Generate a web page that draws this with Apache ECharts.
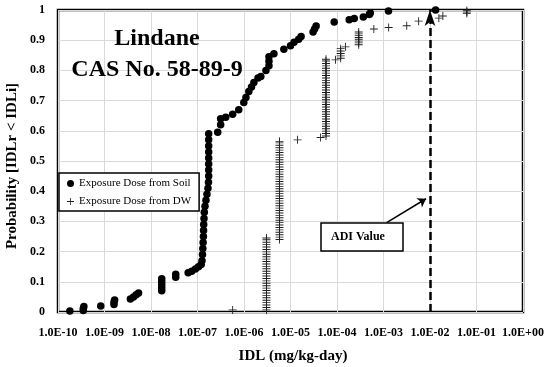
<!DOCTYPE html>
<html>
<head>
<meta charset="utf-8">
<script src="https://cdn.jsdelivr.net/npm/echarts@6/dist/echarts.min.js"></script>
<style>html,body{margin:0;padding:0;background:#fff}#c{width:550px;height:367px}</style>
</head>
<body>
<div id="c"></div>
<script>
// ---- data ----
const soilName = 'Exposure Dose from Soil';
const dwName = 'Exposure Dose from DW';
const titleLines = ['Lindane', 'CAS No. 58-89-9'];
const xTitle = 'IDL (mg/kg-day)';
const yTitle = 'Probability [IDLr < IDLi]';
const adiLabel = 'ADI Value';
const adiValue = 0.0082;
const arrowFrom = [1.17e-3, 0.296];
const arrowTo = [0.0082, 0.375];

const soilData = [
  [1.8e-10,0.003],[3.5e-10,0.005],[3.5e-10,0.012],[3.6e-10,0.018],[8.3e-10,0.02],
  [1.6e-9,0.025],[1.6e-9,0.033],[1.65e-9,0.04],[3.6e-9,0.043],[4.2e-9,0.05],[4.8e-9,0.057],[5.4e-9,0.063],
  [1.7e-8,0.07],[1.7e-8,0.08],[1.7e-8,0.09],[1.7e-8,0.1],[1.7e-8,0.11],[3.4e-8,0.115],[3.4e-8,0.125],
  [6.3e-8,0.13],[7.5e-8,0.135],[9.0e-8,0.142],[1.05e-7,0.15],[1.2e-7,0.157],
  [1.25e-7,0.17],[1.28e-7,0.19],[1.3e-7,0.21],[1.32e-7,0.23],[1.34e-7,0.25],[1.35e-7,0.27],[1.36e-7,0.29],
  [1.38e-7,0.31],[1.4e-7,0.33],[1.45e-7,0.35],[1.52e-7,0.37],[1.6e-7,0.39],[1.68e-7,0.41],[1.72e-7,0.43],
  [1.74e-7,0.45],[1.74e-7,0.47],[1.74e-7,0.49],[1.74e-7,0.51],[1.74e-7,0.53],[1.74e-7,0.55],[1.74e-7,0.57],[1.74e-7,0.59],
  [2.72e-7,0.595],[3.15e-7,0.62],[3.15e-7,0.64],[4.05e-7,0.645],[5.7e-7,0.655],[7.7e-7,0.67],[9.9e-7,0.694],
  [1.1e-6,0.71],[1.27e-6,0.73],[1.45e-6,0.745],[1.63e-6,0.76],[2.0e-6,0.775],[2.3e-6,0.78],[2.96e-6,0.8],
  [3.44e-6,0.815],[3.44e-6,0.83],[3.44e-6,0.845],[4.4e-6,0.855],[7.2e-6,0.87],[1.0e-5,0.882],[1.19e-5,0.893],
  [1.5e-5,0.903],[1.69e-5,0.912],[3.06e-5,0.927],[3.3e-5,0.937],[3.56e-5,0.947],[8.7e-5,0.96],
  [1.83e-4,0.968],[2.35e-4,0.972],[3.68e-4,0.977],[4.95e-4,0.985],[5.2e-4,0.99],[1.28e-3,0.997],[1.32e-2,1.0]
];

const dwSingles = [
  [5.7e-7,0.007],[1.42e-5,0.57],[4.44e-5,0.578],[9.3e-5,0.835],[1.53e-4,0.878],
  [6.2e-4,0.937],[1.29e-3,0.942],[3.16e-3,0.948],[5.7e-3,0.963],[1.55e-2,0.973],[1.89e-2,0.98],
  [6.2e-2,0.988],[6.2e-2,0.993],[6.2e-2,0.998]
];
const dwStackIDL = [3.04e-6, 5.8e-6, 5.8e-5, 1.2e-4, 2.93e-4];
const dwStackProb = [
  [0.007,0.015,0.023,0.031,0.039,0.047,0.055,0.063,0.071,0.079,0.087,0.095,0.103,0.111,0.119,0.127,
   0.135,0.143,0.151,0.159,0.167,0.175,0.183,0.191,0.199,0.207,0.215,0.223,0.231,0.239,0.245],
  [0.24,0.248,0.256,0.264,0.272,0.28,0.288,0.296,0.304,0.312,0.32,0.328,0.336,0.344,0.352,0.36,0.368,
   0.376,0.384,0.392,0.4,0.408,0.416,0.424,0.432,0.44,0.448,0.456,0.464,0.472,0.48,0.488,0.496,0.504,
   0.512,0.52,0.528,0.536,0.544,0.552,0.56,0.565],
  [0.583,0.591,0.599,0.607,0.615,0.623,0.631,0.639,0.647,0.655,0.663,0.671,0.679,0.687,0.695,0.703,
   0.711,0.719,0.727,0.735,0.743,0.751,0.759,0.767,0.775,0.783,0.791,0.799,0.807,0.815,0.823,0.831,0.837],
  [0.84,0.848,0.856,0.864,0.872],
  [0.885,0.891,0.897,0.903,0.909,0.915,0.921,0.927]
];

// ---- build ----
const dwData = dwSingles.slice();
dwStackIDL.forEach((x, i) => dwStackProb[i].forEach(p => dwData.push([x, p])));

const SERIF = 'Liberation Serif, Times New Roman, serif';
const plusPath = 'path://M0,3.55 H8 V4.45 H0 Z M3.55,0 H4.45 V8 H3.55 Z';

function expLabel(v) {
  const e = Math.round(Math.log10(v));
  return '1.0E' + (e < 0 ? '-' : '+') + String(Math.abs(e)).padStart(2, '0');
}

const chart = echarts.init(document.getElementById('c'), null, {renderer: 'canvas'});
chart.setOption({
  animation: false,
  backgroundColor: '#fff',
  grid: {left: 58, top: 10, width: 465, height: 302, show: true, borderColor: '#000', borderWidth: 2.5, backgroundColor: 'transparent'},
  xAxis: {
    type: 'log', logBase: 10, min: 1e-10, max: 1, interval: 1,
    axisLine: {show: false}, axisTick: {show: false},
    splitLine: {show: true, lineStyle: {color: '#d9d9d9', width: 1}},
    minorSplitLine: {show: false},
    axisLabel: {formatter: expLabel, fontFamily: SERIF, fontWeight: 'bold', fontSize: 12, color: '#000', margin: 15, showMinLabel: true, showMaxLabel: true}
  },
  yAxis: {
    type: 'value', min: 0, max: 1, interval: 0.1,
    axisLine: {show: false}, axisTick: {show: false},
    splitLine: {show: true, lineStyle: {color: '#d9d9d9', width: 1}},
    axisLabel: {formatter: v => String(+v.toFixed(1)), fontFamily: SERIF, fontWeight: 'bold', fontSize: 12, color: '#000', margin: 13}
  },
  legend: {
    orient: 'vertical', left: 59, top: 173,
    padding: [5, 8, 4, 8], itemGap: 7, itemWidth: 7, itemHeight: 7, itemTextGap: 4,
    borderColor: '#000', borderWidth: 1.5, borderRadius: 0, backgroundColor: '#fff',
    textStyle: {fontFamily: SERIF, fontSize: 11, color: '#000'},
    data: [{name: soilName, icon: 'circle'}, {name: dwName, icon: plusPath}]
  },
  series: [
    {
      name: dwName, type: 'scatter', data: dwData, symbol: plusPath, symbolSize: 8,
      itemStyle: {color: '#222', opacity: 1}, clip: false, z: 3
    },
    {
      name: soilName, type: 'scatter', data: soilData, symbol: 'circle', symbolSize: 7.5,
      itemStyle: {color: '#000', opacity: 1}, clip: false, z: 4,
      markLine: {
        silent: true, animation: false, label: {show: false},
        data: [
          {xAxis: adiValue, symbol: 'none', lineStyle: {color: '#000', type: [8, 4], width: 2.5}},
          [
            {coord: arrowFrom, symbol: 'none', lineStyle: {color: '#000', type: 'solid', width: 1.5}},
            {coord: arrowTo, symbol: 'arrow', symbolSize: 8}
          ]
        ]
      }
    }
  ],
  graphic: [
    {type: 'text', x: 157, y: 39, z: 100, style: {text: titleLines[0], font: 'bold 24px ' + SERIF, fill: '#000', textAlign: 'center', textVerticalAlign: 'middle'}},
    {type: 'text', x: 157, y: 70, z: 100, style: {text: titleLines[1], font: 'bold 24px ' + SERIF, fill: '#000', textAlign: 'center', textVerticalAlign: 'middle'}},
    {type: 'text', x: 293, y: 356, z: 100, style: {text: xTitle, font: 'bold 15px ' + SERIF, fill: '#000', textAlign: 'center', textVerticalAlign: 'middle'}},
    {type: 'text', x: 12, y: 166, z: 100, rotation: Math.PI / 2, style: {text: yTitle, font: 'bold 15px ' + SERIF, fill: '#000', textAlign: 'center', textVerticalAlign: 'middle'}},
    {type: 'rect', shape: {x: 321, y: 223, width: 82, height: 28}, style: {fill: '#fff', stroke: '#000', lineWidth: 1.5}, z: 100},
    {type: 'text', x: 331, y: 237, z: 101, style: {text: adiLabel, font: 'bold 12px ' + SERIF, fill: '#000', textAlign: 'left', textVerticalAlign: 'middle'}}
  ]
});
</script>
</body>
</html>
